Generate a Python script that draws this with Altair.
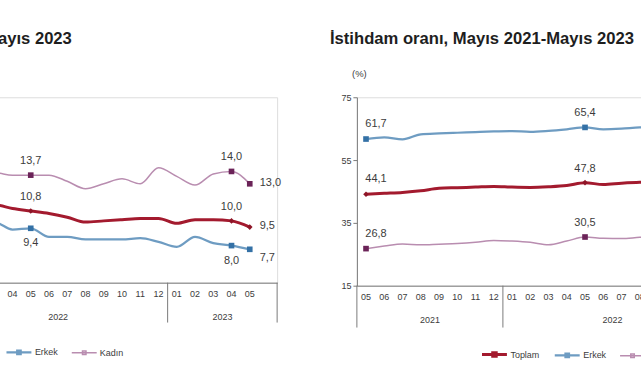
import altair as alt
import pandas as pd

months = ["05", "06", "07", "08", "09", "10", "11", "12",
          "01", "02", "03", "04", "05", "06", "07", "08", "09", "10", "11", "12",
          "01", "02", "03", "04", "05"]
years = ["2021", "2022", "2023"]
series = ["Toplam", "Erkek", "Kadın"]

# İşsizlik oranı (%)
u_toplam = [11.9, 11.4, 12.0, 11.7, 11.3, 11.2, 11.2, 11.3, 11.4, 11.0, 11.3, 11.0,
            10.8, 10.6, 10.3, 9.9, 10.0, 10.1, 10.2, 10.2, 9.8, 10.1, 10.1, 10.0, 9.5]
u_erkek = [10.4, 10.0, 10.6, 10.3, 9.9, 9.7, 9.6, 9.8, 9.9, 9.5, 9.9, 9.3,
           9.4, 8.7, 8.7, 8.5, 8.5, 8.5, 8.6, 8.3, 7.9, 8.7, 8.2, 8.0, 7.7]
u_kadin = [14.5, 14.0, 14.6, 14.4, 14.0, 14.3, 14.2, 14.3, 14.4, 13.9, 13.9, 13.7,
           13.7, 13.7, 13.2, 12.6, 13.0, 13.4, 13.0, 14.3, 13.6, 12.9, 13.8, 14.0, 13.0]

# İstihdam oranı (%)
e_toplam = [44.1, 44.4, 44.7, 45.2, 46.0, 46.2, 46.4, 46.6, 46.4, 46.3, 46.5, 46.9,
            47.8, 47.2, 47.6, 47.9, 48.0, 48.2, 48.3, 48.4, 48.1, 48.3, 48.5, 48.6, 48.7]
e_erkek = [61.7, 62.2, 61.6, 63.2, 63.5, 63.7, 63.9, 64.1, 64.2, 64.0, 64.3, 64.8,
           65.4, 64.8, 65.0, 65.4, 65.5, 65.6, 65.7, 65.8, 65.4, 65.6, 65.8, 65.9, 66.0]
e_kadin = [26.8, 27.6, 28.3, 28.0, 28.2, 28.4, 28.8, 29.4, 29.2, 28.8, 28.0, 29.2,
           30.5, 30.1, 30.0, 30.4, 30.6, 30.8, 30.9, 31.0, 30.8, 31.0, 31.2, 31.3, 31.5]

line_colors = ["#A31A2E", "#6E9CC2", "#B98DB0"]
marker_colors = ["#8E1527", "#3471A6", "#6B2358"]
marker_shapes = ["diamond", "square", "square"]
text_color = "#3c3c3c"
axis_color = "#7a7a7a"
FONT = "Liberation Sans"

# which points carry a value label, and where the label sits
left_labels = [("Toplam", 0, "first"), ("Erkek", 0, "first"), ("Kadın", 0, "first"),
               ("Toplam", 12, "above"), ("Kadın", 12, "above"), ("Erkek", 12, "below"),
               ("Toplam", 23, "above"), ("Kadın", 23, "above"), ("Erkek", 23, "below"),
               ("Toplam", 24, "right"), ("Kadın", 24, "right"), ("Erkek", 24, "rightbelow")]
right_labels = [("Toplam", 0, "first"), ("Erkek", 0, "first"), ("Kadın", 0, "first"),
                ("Toplam", 12, "above"), ("Erkek", 12, "above"), ("Kadın", 12, "above"),
                ("Toplam", 24, "above"), ("Erkek", 24, "above"), ("Kadın", 24, "above")]

offsets = {"first": (10, -15, "center"), "above": (0, -14, "center"),
           "below": (0, 15, "center"), "right": (10, -1, "left"),
           "rightbelow": (10, 9, "left")}


def long_df(vals):
    rows = []
    for s, v in zip(series, vals):
        for i, y in enumerate(v):
            rows.append({"i": i, "seri": s, "deger": y})
    return pd.DataFrame(rows)


def panel(vals, ydom, yticks, height, title, title_dx, labels, legend_x, rule_len):
    df = long_df(vals)
    lookup = {(r.seri, r.i): r.deger for r in df.itertuples()}
    lab = pd.DataFrame([{"seri": s, "i": i, "deger": lookup[(s, i)], "yer": p}
                        for s, i, p in labels])
    mdf = pd.DataFrame({"i": list(range(len(months))), "ay": months})

    n = len(months)
    xscale = alt.Scale(domain=[-0.5, n + 0.5], nice=False, zero=False)
    xaxis = alt.Axis(labels=False, grid=False, ticks=False, domainColor=axis_color, title=None)
    yscale = alt.Scale(domain=ydom, nice=False, zero=False)
    yaxis = alt.Axis(values=yticks, grid=False, tickSize=4, tickColor=axis_color,
                     domainColor=axis_color, labelFontSize=9, labelColor=text_color,
                     labelPadding=2, labelFont=FONT, title="(%)", titleAngle=0, titleX=2,
                     titleY=-24, titleFontWeight="normal", titleFontSize=9.5,
                     titleAlign="center", titleBaseline="middle", titleColor=text_color,
                     titleFont=FONT)

    xs = alt.X("i:Q", scale=xscale, axis=xaxis)
    ys = alt.Y("deger:Q", scale=yscale, axis=yaxis)

    lines = alt.Chart(df).mark_line(interpolate="monotone").encode(
        x=xs, y=ys,
        color=alt.Color("seri:N", scale=alt.Scale(domain=series, range=line_colors),
                        legend=alt.Legend(title=None, orient="none", direction="horizontal",
                                          legendX=legend_x, legendY=height + 55,
                                          symbolType="M-1,0H1M-0.14,-0.14H0.14V0.14H-0.14Z",
                                          symbolSize=625, symbolStrokeWidth=2,
                                          labelFontSize=9, labelColor=text_color,
                                          labelFont=FONT, labelOffset=2, columnPadding=10)),
        strokeWidth=alt.StrokeWidth("seri:N", scale=alt.Scale(domain=series, range=[3, 1.5, 1.5]),
                                    legend=None),
    )

    pts = []
    for s, c, sh in zip(series, marker_colors, marker_shapes):
        pts.append(alt.Chart(lab).transform_filter(alt.datum.seri == s).mark_point(
            filled=True, size=32, opacity=1, color=c, shape=sh).encode(
            x=alt.X("i:Q", scale=xscale), y=alt.Y("deger:Q", scale=yscale)))

    texts = []
    for place, (dx, dy, align) in offsets.items():
        t = alt.Chart(lab).transform_filter(alt.datum.yer == place).transform_calculate(
            lbl="replace(format(datum.deger, '.1f'), '.', ',')"
        ).mark_text(dx=dx, dy=dy, align=align, baseline="middle", fontSize=11,
                    color=text_color, font=FONT).encode(
            x=alt.X("i:Q", scale=xscale), y=alt.Y("deger:Q", scale=yscale), text="lbl:N")
        texts.append(t)

    mtext = alt.Chart(mdf).mark_text(fontSize=9, color=text_color, font=FONT,
                                     baseline="middle").encode(
        x=alt.X("i:Q", scale=xscale), y=alt.value(height + 11), text="ay:N")

    bounds = [-0.5] + [i - 0.5 for i, m in enumerate(months) if m == "01" and i > 0] + [n + 0.5]
    bdf = pd.DataFrame({"b": bounds})
    ydf = pd.DataFrame({"c": [(bounds[k] + bounds[k + 1]) / 2 for k in range(len(years))],
                        "yil": years})

    rules = alt.Chart(bdf).mark_rule(color=axis_color, strokeWidth=1).encode(
        x=alt.X("b:Q", scale=xscale), y=alt.value(height), y2=alt.value(height + rule_len))
    yrs = alt.Chart(ydf).mark_text(fontSize=9, color=text_color, font=FONT,
                                   baseline="middle").encode(
        x=alt.X("c:Q", scale=xscale), y=alt.value(height + 34), text="yil:N")

    return alt.layer(lines, *pts, *texts, mtext, rules, yrs).properties(
        width=476, height=height,
        title=alt.TitleParams(title, anchor="start", frame="group", dx=title_dx,
                              fontSize=16.7, fontWeight="bold", color="#1e1e1e",
                              font=FONT, offset=8, baseline="alphabetic"),
    )


left = panel([u_toplam, u_erkek, u_kadin], [5, 20], [5, 10, 15, 20], 186,
             "İşsizlik oranı, Mayıs 2021-Mayıs 2023", -21, left_labels, 130, 40)
right = panel([e_toplam, e_erkek, e_kadin], [15, 75], [15, 35, 55, 75], 189,
              "İstihdam oranı, Mayıs 2021-Mayıs 2023", -27, right_labels, 124, 42)

chart = alt.hconcat(left, right, spacing=80, bounds="flush").resolve_scale(
    color="independent", strokeWidth="independent", x="independent", y="independent"
).resolve_legend(color="independent").properties(
    padding={"left": -220, "top": 29, "right": -192, "bottom": 0},
    background="white",
).configure_view(stroke=None).configure(font=FONT)

chart.save("out.html", embed_options={"renderer": "svg", "actions": False})
